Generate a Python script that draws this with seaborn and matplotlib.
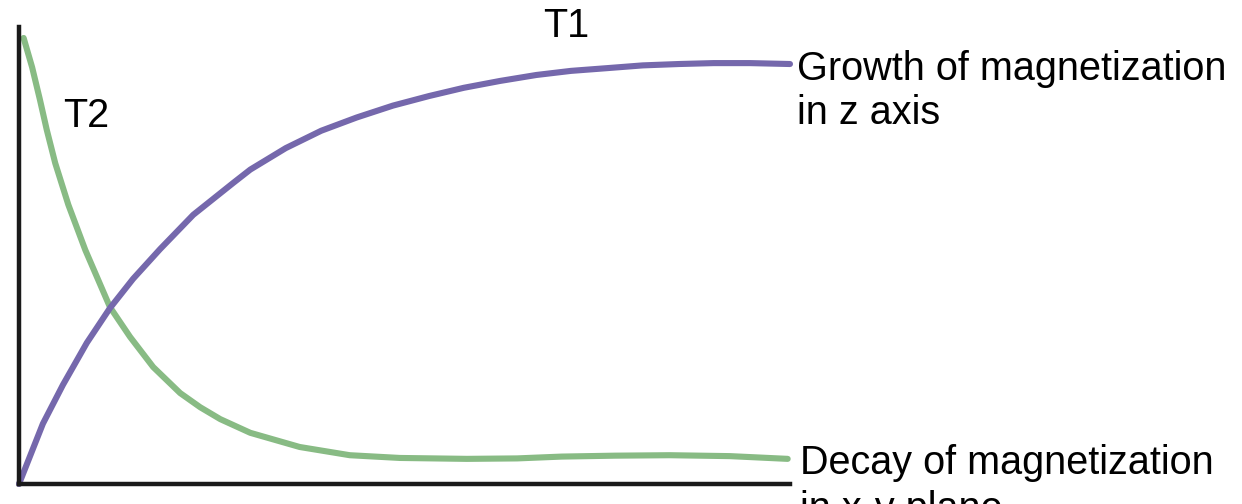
import matplotlib
matplotlib.use("Agg")
import matplotlib.pyplot as plt
import seaborn as sns
import pandas as pd

# --- values (time 0..10, magnetization 0..100) ---
growth_t = [0, 0.31, 0.57, 0.88, 1.18, 1.48, 1.83, 2.26, 2.78, 3.0, 3.46, 3.92, 4.38, 4.85,
            5.32, 5.77, 6.24, 6.71, 7.16, 7.63, 8.09, 8.56, 9.01, 9.48, 10.0]
growth_m = [0, 13.2, 21.7, 30.9, 38.5, 44.9, 51.4, 58.9, 65.9, 68.8, 73.5, 77.3, 80.2, 82.8,
            84.9, 86.7, 88.2, 89.5, 90.4, 91.0, 91.6, 91.9, 92.1, 92.1, 91.9]

decay_t = [0.06, 0.17, 0.27, 0.36, 0.47, 0.64, 0.86, 1.18, 1.44, 1.74, 2.09, 2.35, 2.61, 3.0,
           3.64, 4.29, 4.94, 5.81, 6.46, 7.04, 7.73, 8.44, 9.22, 9.97]
decay_m = [97.6, 91.2, 84.2, 77.5, 70.2, 61.1, 51.2, 38.7, 32.2, 25.6, 19.9, 16.8, 14.2, 11.2,
           8.1, 6.3, 5.7, 5.5, 5.6, 6.0, 6.2, 6.3, 6.1, 5.5]

growth_label = ["Growth of magnetization", "in z axis"]
decay_label = ["Decay of magnetization", "in x-y plane"]

growth_df = pd.DataFrame({"t": growth_t, "m": growth_m})
decay_df = pd.DataFrame({"t": decay_t, "m": decay_m})

sns.set_style("white")
plt.rcParams["font.family"] = ["Liberation Sans", "DejaVu Sans"]

fig = plt.figure(figsize=(12.42, 5.04), dpi=100)
ax = fig.add_axes([19 / 1242, 20 / 504, 771 / 1242, 457 / 504])

sns.lineplot(data=decay_df, x="t", y="m", ax=ax, color="#88bb84",
             linewidth=4.4, sort=False, clip_on=False)
sns.lineplot(data=growth_df, x="t", y="m", ax=ax, color="#7568ac",
             linewidth=4.4, sort=False, clip_on=False)

ax.set_xlim(0, 10)
ax.set_ylim(0, 100)
ax.set_xticks([])
ax.set_yticks([])
ax.set_xlabel("")
ax.set_ylabel("")
for side in ["top", "right"]:
    ax.spines[side].set_visible(False)
for side in ["left", "bottom"]:
    ax.spines[side].set_color("#1a1a1a")
    ax.spines[side].set_linewidth(3.2)

fs = 28.5
txt = dict(fontsize=fs, va="baseline", color="black", clip_on=False)
ax.text(6.8, 97.9, "T1", **txt)
ax.text(0.57, 78.1, "T2", **txt)
ax.text(10.09, 88.4, growth_label[0], **txt)
ax.text(10.09, 78.8, growth_label[1], **txt)
ax.text(10.13, 2.2, decay_label[0], **txt)
ax.text(10.13, -7.9, decay_label[1], **txt)

fig.savefig("out.png", dpi=100)
